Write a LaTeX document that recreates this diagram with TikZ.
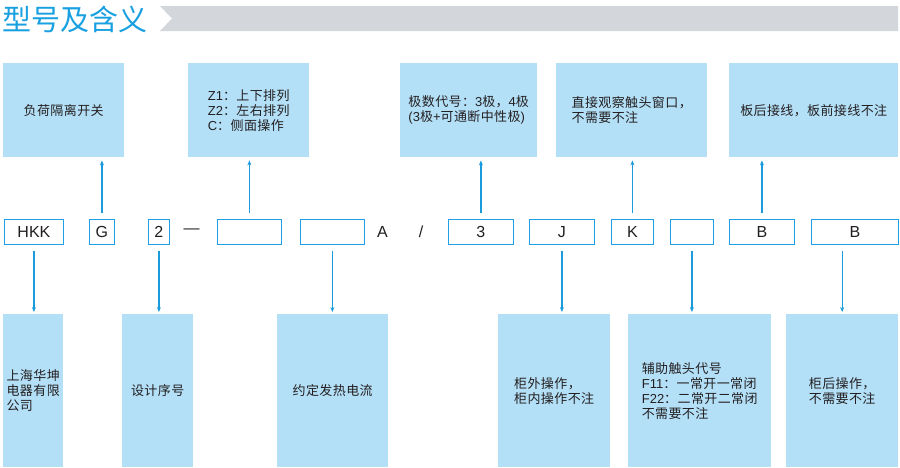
\documentclass[tikz,border=0pt]{standalone}
\usepackage{fontspec}
\setmainfont{Liberation Sans}
\newfontfamily\cjk[LetterSpace=3]{Noto Sans CJK SC}
\newfontfamily\lat{Liberation Sans}
\newfontfamily\cjktitle{Noto Sans CJK SC}
\newcommand\Lt[1]{{\lat #1}}
\usetikzlibrary{arrows.meta}
\definecolor{boxfill}{RGB}{180,224,247}
\definecolor{codeblue}{RGB}{30,160,230}
\definecolor{arrowblue}{RGB}{26,155,220}
\definecolor{titleblue}{RGB}{25,160,225}
\definecolor{bargrey}{RGB}{211,215,219}
\definecolor{textdark}{RGB}{35,31,32}
\begin{document}
\begin{tikzpicture}[x=1pt,y=-1pt,
  sz/.style 2 args={minimum width=#1pt, minimum height=#2pt},
  infobox/.style={fill=boxfill, draw=none, inner sep=0pt, anchor=north west, align=left,
    font=\cjk\fontsize{13}{15}\selectfont, text=textdark},
  codebox/.style={draw=codeblue, line width=1.4pt, fill=white, inner sep=0pt, anchor=north west,
    font=\fontsize{16}{18}\selectfont, text=textdark},
  codetext/.style={inner sep=0pt, font=\fontsize{16}{18}\selectfont, text=textdark},
  arr/.style={draw=arrowblue, line width=1.2pt, -{Stealth[length=5pt,width=4pt]}},
  uparr/.style={arr, shorten <=6pt, shorten >=3pt},
  downarr/.style={arr, shorten <=6pt, shorten >=2pt}
]
\useasboundingbox (0,0) rectangle (900,467);
\fill[white] (0,0) rectangle (900,467);

% title
\node[anchor=west, inner sep=0pt, text=titleblue, font=\cjktitle\fontsize{29}{29}\selectfont] (title) at (2,19) {型号及含义};
\fill[bargrey] (160,6) -- (898,6) -- (898,31) -- (160,31) -- (172,18.5) -- cycle;

% top info boxes
\node[infobox, sz={121}{94}] (t1) at (3,63) {负荷隔离开关};
\node[infobox, sz={121}{94}] (t2) at (188,63) {\Lt{Z1}：上下排列\\\Lt{Z2}：左右排列\\\Lt{C}：侧面操作};
\node[infobox, sz={137}{94}] (t3) at (400,63) {极数代号：\Lt{3}极，\Lt{4}极\\\Lt{(3}极\Lt{+}可通断中性极\Lt{)}};
\node[infobox, sz={151}{94}] (t4) at (556,63) {直接观察触头窗口，\\不需要不注};
\node[infobox, sz={169}{94}] (t5) at (729,63) {板后接线，板前接线不注};

% middle code row
\node[codebox, sz={59}{25}] (mHKK) at (3.7,218.7) {HKK};
\node[codebox, sz={25}{25}] (mG) at (88.7,218.7) {G};
\node[codebox, sz={21}{25}] (m2) at (147.7,218.7) {2};
\node[codetext] (mdash) at (191.5,231.5) {—};
\node[codebox, sz={64}{25}] (mE1) at (216.7,218.7) {};
\node[codebox, sz={64}{25}] (mE2) at (299.7,218.7) {};
\node[codetext] (mA) at (382.5,231.5) {A};
\node[codetext] (mslash) at (421,231.5) {/};
\node[codebox, sz={65}{25}] (m3) at (447.7,218.7) {3};
\node[codebox, sz={65}{25}] (mJ) at (528.7,218.7) {J};
\node[codebox, sz={42}{25}] (mK) at (610.7,218.7) {K};
\node[codebox, sz={43}{25}] (mE3) at (669.7,218.7) {};
\node[codebox, sz={65}{25}] (mB1) at (728.7,218.7) {B};
\node[codebox, sz={87}{25}] (mB2) at (810.7,218.7) {B};

% bottom info boxes
\node[infobox, sz={60}{153}] (bA) at (3,314) {上海华坤\\电器有限\\公司};
\node[infobox, sz={71}{153}] (bB) at (122,314) {设计序号};
\node[infobox, sz={111}{153}] (bC) at (277,314) {约定发热电流};
\node[infobox, sz={112}{153}] (bD) at (498,314) {柜外操作，\\柜内操作不注};
\node[infobox, sz={143}{153}] (bE) at (628,314) {辅助触头代号\\\Lt{F11}：一常开一常闭\\\Lt{F22}：二常开二常闭\\不需要不注};
\node[infobox, sz={112}{153}] (bF) at (786,314) {柜后操作，\\不需要不注};

% up arrows
\draw[uparr] (mG.north) -- (mG.north |- t1.south);
\draw[uparr] (mE1.north) -- (mE1.north |- t2.south);
\draw[uparr] (m3.north) -- (m3.north |- t3.south);
\draw[uparr] (mK.north) -- (mK.north |- t4.south);
\draw[uparr] (mB1.north) -- (mB1.north |- t5.south);

% down arrows
\draw[downarr] (mHKK.south) -- (mHKK.south |- bA.north);
\draw[downarr] (m2.south) -- (m2.south |- bB.north);
\draw[downarr] (mE2.south) -- (mE2.south |- bC.north);
\draw[downarr] (mJ.south) -- (mJ.south |- bD.north);
\draw[downarr] (mE3.south) -- (mE3.south |- bE.north);
\draw[downarr] (bF.north |- mB2.south) -- (bF.north);
\end{tikzpicture}
\end{document}
